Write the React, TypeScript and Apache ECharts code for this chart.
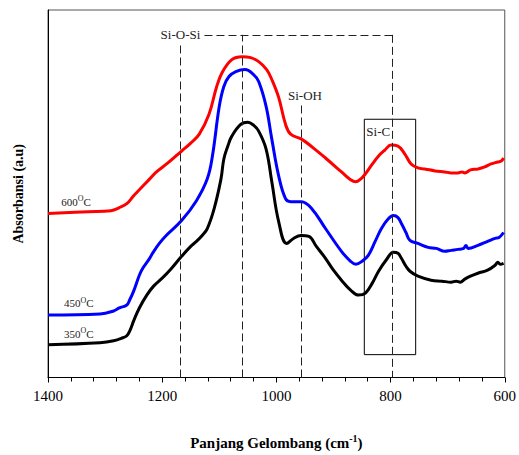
import React, { useEffect, useRef } from "react";
import * as echarts from "echarts";

const FONT = "Liberation Serif";

// Wavenumber (cm-1) and absorbance (arbitrary units)
const wn600 = [1400,1330,1290,1275,1262,1250,1240,1225,1210,1190,1166,1150,1135,1118,1105,1095,1078,1060,1045,1031,1017,1008,996,984,975,956,935,914,886,870,861,852,844,833,821,810,799,787,775,764,752,740,722,705,694,682,675,670,660,647,635,624,612,606,602];
const abs600 = [165,167,168,171,175,183,189,198,207,216,228,236,245,265,292,307,320,323,322,318,310,300,282,255,245,240,231,221,207,199,197,200,205,214,223,229,234,233,225,215,211,210,208,207,206,206,207,206,209,210,212,215,217,218,221];

const wn450 = [1400,1309,1285,1275,1262,1257,1250,1240,1234,1222,1217,1205,1193,1166,1140,1121,1112,1100,1092,1083,1071,1055,1040,1031,1018,1008,996,984,975,956,938,914,886,870,861,850,839,827,816,805,795,787,781,773,766,752,734,720,705,694,682,672,668,664,647,630,617,610,602];
const abs450 = [63,64,67,70,73,78,87,103,110,120,125,135,143,158,178,200,223,273,293,303,308,310,305,298,273,240,203,180,177,177,170,150,127,117,114,117,123,137,150,159,163,161,155,146,138,135,131,130,127,128,129,130,133,130,133,137,140,141,146];

const wn350 = [1400,1309,1285,1269,1262,1256,1250,1240,1227,1215,1200,1185,1166,1150,1140,1130,1121,1109,1097,1092,1085,1078,1062,1050,1040,1031,1018,1008,996,982,970,957,943,930,914,900,886,870,856,844,832,821,808,795,787,781,773,766,752,729,710,694,685,678,670,660,647,630,617,612,608,602];
const abs350 = [33,35,37,40,42,48,57,70,83,92,100,109,122,132,137,143,150,170,200,220,233,243,255,257,254,248,230,197,157,135,140,143,142,132,120,108,98,88,83,85,95,107,118,126,125,120,112,107,102,98,97,96,97,96,99,102,105,108,113,116,114,115];

const xTicks = { min: 600, max: 1400, interval: 200 };
const seriesNames = ["600°C", "450°C", "350°C"];
const seriesColors = ["#ff0000", "#0000ff", "#000000"];

// Annotation positions in data coordinates
const siOSi = { left: 1168, center: 1060, right: 797, top: 345 };
const siOH = { x: 957, top: 275 };
const siC = { x1: 846, x2: 756, top: 260, bottom: 23 };

const zip = (xs: number[], ys: number[]) => xs.map((x, i) => [x, ys[i]]);

export default function App() {
  const ref = useRef<HTMLDivElement>(null);
  useEffect(() => {
    if (!ref.current) return;
    const chart = echarts.init(ref.current, undefined, { renderer: "svg" });
    const dash = { color: "#222", width: 1, type: [8, 4] as any };
    const line = (i: number, xs: number[], ys: number[]) => ({
      name: seriesNames[i], type: "line", data: zip(xs, ys), showSymbol: false,
      smooth: 0.4,
      lineStyle: { color: seriesColors[i], width: 3 }, itemStyle: { color: seriesColors[i] }, z: 3,
    });
    const option: any = {
      animation: false,
      textStyle: { fontFamily: FONT },
      grid: { left: 48, right: 12, top: 10, bottom: 75, show: true, borderColor: "#555", borderWidth: 1 },
      xAxis: {
        type: "value",
        min: xTicks.min,
        max: xTicks.max,
        interval: xTicks.interval,
        inverse: true,
        name: "{b|Panjang Gelombang (cm}{s|-1}{b|)}",
        nameLocation: "middle",
        nameGap: 56,
        nameTextStyle: {
          rich: {
            b: { fontFamily: FONT, fontWeight: "bold", fontSize: 15, lineHeight: 18, color: "#000" },
            s: { fontFamily: FONT, fontWeight: "bold", fontSize: 10, lineHeight: 10, color: "#000", verticalAlign: "top" },
          },
        },
        axisLine: { show: true, onZero: false, lineStyle: { color: "#000", width: 1 } },
        axisTick: { show: true, length: 5, lineStyle: { color: "#000" } },
        minorTick: { show: true, splitNumber: 5, length: 4, lineStyle: { color: "#000" } },
        splitLine: { show: false },
        axisLabel: { color: "#000", fontSize: 15, fontFamily: FONT, margin: 11, formatter: (v: number) => String(v) },
      },
      yAxis: {
        type: "value",
        min: 0,
        max: 370,
        name: "Absorbansi (a.u)",
        nameLocation: "middle",
        nameGap: 23,
        nameTextStyle: { fontFamily: FONT, fontWeight: "bold", fontSize: 14, color: "#000" },
        axisLine: { show: true, lineStyle: { color: "#000", width: 1 } },
        axisTick: { show: false },
        axisLabel: { show: false },
        splitLine: { show: false },
      },
      series: [
        line(0, wn600, abs600),
        line(1, wn450, abs450),
        {
          ...line(2, wn350, abs350),
          markLine: {
            silent: true,
            symbol: ["none", "none"],
            label: { show: false },
            lineStyle: dash,
            data: [
              [{ coord: [siOSi.left, 0] }, { coord: [siOSi.left, siOSi.top] }],
              [{ coord: [siOSi.left, siOSi.top] }, { coord: [siOSi.right, siOSi.top] }],
              [{ coord: [siOSi.right, siOSi.top] }, { coord: [siOSi.right, 0] }],
              [{ coord: [siOSi.center, 0] }, { coord: [siOSi.center, siOSi.top] }],
              [{ coord: [siOH.x, 0] }, { coord: [siOH.x, siOH.top] }],
            ],
          },
          markArea: {
            silent: true,
            itemStyle: { color: "rgba(0,0,0,0)", borderColor: "#000", borderWidth: 1 },
            data: [[{ coord: [siC.x1, siC.top] }, { coord: [siC.x2, siC.bottom] }]],
          },
        },
      ],
    };
    chart.setOption(option);

    const px = (x: number, y: number) => chart.convertToPixel({ gridIndex: 0 }, [x, y]) as number[];
    const pOSi = px(siOSi.left, siOSi.top);
    const pOH = px(siOH.x, siOH.top);
    const pC = px(siC.x1, siC.top);
    const tempLabel = (txt: string, w: number, v: number) => {
      const p = px(w, v);
      return {
        type: "text",
        x: p[0],
        y: p[1],
        z: 10,
        style: {
          text: `{n|${txt}}{s|O}{n|C}`,
          align: "left",
          verticalAlign: "middle",
          rich: {
            n: { fontFamily: FONT, fontSize: 11, lineHeight: 14, fill: "#222" },
            s: { fontFamily: FONT, fontSize: 8, lineHeight: 8, fill: "#222", verticalAlign: "top" },
          },
        },
      };
    };
    const annoStyle = { fontFamily: FONT, fontSize: 13, fill: "#222" };
    chart.setOption({
      graphic: [
        {
          type: "text", x: pOSi[0], y: pOSi[1], z: 10,
          style: { ...annoStyle, text: "Si-O-Si", align: "center", verticalAlign: "middle", backgroundColor: "#fff", padding: [2, 1, 2, 1] },
        },
        {
          type: "text", x: pOH[0] + 4, y: pOH[1] - 9, z: 10,
          style: { ...annoStyle, text: "Si-OH", align: "center", verticalAlign: "middle" },
        },
        {
          type: "text", x: pC[0] + 2, y: pC[1] + 12, z: 10,
          style: { ...annoStyle, text: "Si-C", align: "left", verticalAlign: "middle" },
        },
        tempLabel("600", 1377, 177),
        tempLabel("450", 1372, 75),
        tempLabel("350", 1372, 44),
      ],
    });
    return () => chart.dispose();
  }, []);
  return <div ref={ref} style={{ position: "absolute", left: 0, top: 0, width: 519, height: 455 }} />;
}
